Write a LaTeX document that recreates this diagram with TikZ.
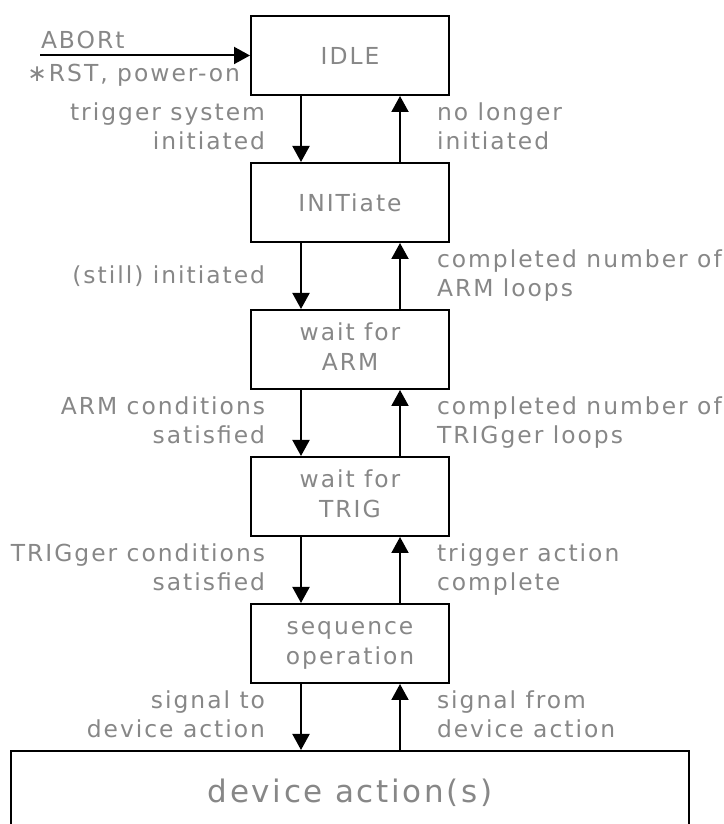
\documentclass[tikz,border=0pt]{standalone}
\usepackage{fontspec}
\setmainfont{DejaVu Sans}[LetterSpace=8.5]
\usetikzlibrary{arrows.meta,positioning}
\newcommand{\lbfont}{\fontsize{23.4}{29.5}\selectfont}
\tikzset{
    state/.style={
           rectangle,
           draw=black, line width=2pt,
           minimum width=198pt,
           minimum height=79pt,
           inner sep=2pt,
           text centered,
           text=black!47,
           font=\lbfont
           },
    lbl/.style={text=black!47, inner sep=0pt, font=\lbfont},
}
\begin{document}
\begin{tikzpicture}[->,>={Triangle[width=17pt,length=16pt]},line width=2pt]
            \useasboundingbox (0,0) rectangle (723pt,824pt);

             \node[state] (IDLE) at (350pt,768.5pt) {IDLE};

             \node[state, below of=IDLE, node distance=147pt, anchor=center] (INIT) {INITiate};

             \node[state, below of=INIT, node distance=147pt, anchor=center] (ARM)
             {%
             \begin{tabular}{@{}c@{}}
              wait for\\
              ARM
             \end{tabular}
             };

             \node[state, below of=ARM, node distance=147pt, anchor=center] (TRIG)
             {%
             \begin{tabular}{@{}c@{}}
              wait for\\
              TRIG
             \end{tabular}
             };

             \node[state, below of=TRIG, node distance=147pt, anchor=center] (SEQ)
             {%
             \begin{tabular}{@{}c@{}}
              sequence\\
              operation
             \end{tabular}
             };

             \node[state, below of=SEQ, node distance=149.5pt, anchor=center,
              minimum width=678pt, minimum height=84pt,
              font=\fontsize{31}{37}\selectfont] (DEV) {device action(s)};

             % entry into IDLE
             \coordinate[left=210pt of IDLE.west] (RESET);
             \path (RESET) edge
                node[lbl, pos=0, anchor=south west, yshift=6pt] {ABORt}
                node[lbl, pos=1, anchor=north east, xshift=-9pt, yshift=-8pt] {∗RST, power-on}
              (IDLE.west);

             \path
             ([xshift=-49pt]IDLE.south) edge node[lbl, left=35pt]
             {\begin{tabular}{@{}r@{}} trigger system\\ initiated \end{tabular}}
             ([xshift=-49pt]INIT.north)
             ([xshift=50pt]INIT.north) edge node[lbl, right=36pt]
             {\begin{tabular}{@{}l@{}} no longer\\ initiated \end{tabular}}
             ([xshift=50pt]IDLE.south)

             ([xshift=-49pt]INIT.south) edge node[lbl, left=35pt]
             {(still) initiated}
             ([xshift=-49pt]ARM.north)
             ([xshift=50pt]ARM.north) edge node[lbl, right=36pt]
             {\begin{tabular}{@{}l@{}} completed number of\\ ARM loops \end{tabular}}
             ([xshift=50pt]INIT.south)

             ([xshift=-49pt]ARM.south) edge node[lbl, left=35pt]
             {\begin{tabular}{@{}r@{}} ARM conditions\\ satisfied \end{tabular}}
             ([xshift=-49pt]TRIG.north)
             ([xshift=50pt]TRIG.north) edge node[lbl, right=36pt]
             {\begin{tabular}{@{}l@{}} completed number of\\ TRIGger loops \end{tabular}}
             ([xshift=50pt]ARM.south)

             ([xshift=-49pt]TRIG.south) edge node[lbl, left=35pt]
             {\begin{tabular}{@{}r@{}} TRIGger conditions\\ satisfied \end{tabular}}
             ([xshift=-49pt]SEQ.north)
             ([xshift=50pt]SEQ.north) edge node[lbl, right=36pt]
             {\begin{tabular}{@{}l@{}} trigger action\\ complete \end{tabular}}
             ([xshift=50pt]TRIG.south)

             ([xshift=-49pt]SEQ.south) edge node[lbl, left=35pt]
             {\begin{tabular}{@{}r@{}} signal to\\ device action \end{tabular}}
             ([xshift=-49pt]DEV.north)
             ([xshift=50pt]DEV.north) edge node[lbl, right=36pt]
             {\begin{tabular}{@{}l@{}} signal from\\ device action \end{tabular}}
             ([xshift=50pt]SEQ.south)
             ;

        \end{tikzpicture}
\end{document}
